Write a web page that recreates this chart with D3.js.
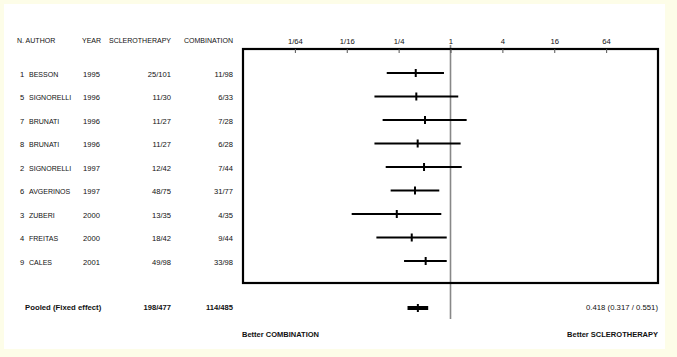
<!DOCTYPE html>
<html><head><meta charset="utf-8">
<script src="https://cdn.jsdelivr.net/npm/d3@7"></script>
<style>
html,body{margin:0;padding:0;background:#fdfde8;}
text{font-family:Arial,"Liberation Sans",sans-serif;fill:#111;}
</style></head>
<body>
<svg id="c" width="677" height="357"></svg>
<script>
const ids = [1,5,7,8,2,6,3,4,9];
const authors = ["BESSON","SIGNORELLI","BRUNATI","BRUNATI","SIGNORELLI","AVGERINOS","ZUBERI","FREITAS","CALES"];
const years = [1995,1996,1996,1996,1997,1997,2000,2000,2001];
const sclero = ["25/101","11/30","11/27","11/27","12/42","48/75","13/35","18/42","49/98"];
const combo = ["11/98","6/33","7/28","6/28","7/44","31/77","4/35","9/44","33/98"];
const est = [0.395,0.401,0.506,0.416,0.493,0.387,0.238,0.355,0.515];
const lo  = [0.182,0.131,0.163,0.131,0.177,0.202,0.0713,0.138,0.289];
const hi  = [0.840,1.23,1.54,1.31,1.35,0.741,0.782,0.904,0.904];
const tickVals = [1/64,1/16,1/4,1,4,16,64];
const tickLabels = ["1/64","1/16","1/4","1","4","16","64"];
const pooled = {label:"Pooled (Fixed effect)", sclero:"198/477", combo:"114/485", est:0.418, lo:0.317, hi:0.551};
const headers = ["N. AUTHOR","YEAR","SCLEROTHERAPY","COMBINATION"];

const svg = d3.select("#c");
svg.append("rect").attr("x",4).attr("y",4).attr("width",661).attr("height",345).attr("fill","#fff");

const x = d3.scaleLog().base(2).domain([1/256,256]).range([243,658]);
const y = d3.scaleLinear().domain([0,8]).range([73,261]);
const yPooled = 308;

function txt(g, s, px, py, opt={}){
  const sx = opt.sx || 0.88;
  return g.append("text")
    .attr("transform",`translate(${px},${py}) scale(${sx},1)`)
    .attr("text-anchor",opt.anchor||"start")
    .attr("dominant-baseline","central")
    .attr("font-size",opt.size||8)
    .attr("font-weight",opt.bold?"bold":"normal")
    .text(s);
}

// headers
const hg = svg.append("g");
txt(hg, headers[0], 17, 40);
txt(hg, headers[1], 82, 40);
txt(hg, headers[2], 171, 40, {anchor:"end"});
txt(hg, headers[3], 233, 40, {anchor:"end"});

// rows text
const rg = svg.append("g");
ids.forEach((d,i)=>{
  const yy = y(i)+1;
  txt(rg, String(d), 20, yy, {sx:0.95});
  txt(rg, authors[i], 29, yy);
  txt(rg, String(years[i]), 83, yy, {sx:0.95});
  txt(rg, sclero[i], 171, yy, {anchor:"end", sx:0.95});
  txt(rg, combo[i], 233, yy, {anchor:"end", sx:0.95});
});

// reference line at 1
svg.append("line").attr("x1",x(1)).attr("x2",x(1)).attr("y1",45).attr("y2",319)
  .attr("stroke","#888").attr("stroke-width",1.6);

// box
svg.append("rect").attr("x",243).attr("y",49).attr("width",415).attr("height",234)
  .attr("fill","none").attr("stroke","#000").attr("stroke-width",2.2);

// axis
const ax = svg.append("g").attr("transform","translate(0,49)")
  .call(d3.axisTop(x).tickValues(tickVals).tickFormat((d,i)=>tickLabels[i]).tickSizeInner(-4).tickSizeOuter(0).tickPadding(6));
ax.select(".domain").remove();
ax.selectAll(".tick line").attr("stroke","#555");
ax.selectAll(".tick text").attr("font-size",8).attr("fill","#111").attr("font-family","Arial,'Liberation Sans',sans-serif")
  .attr("transform","scale(0.96,1)").attr("dy","0.1em");

// CI lines
const cg = svg.append("g");
cg.selectAll("line.ci").data(est).join("line").attr("class","ci")
  .attr("x1",(d,i)=>x(lo[i])).attr("x2",(d,i)=>x(hi[i]))
  .attr("y1",(d,i)=>y(i)).attr("y2",(d,i)=>y(i))
  .attr("stroke","#000").attr("stroke-width",2);
cg.selectAll("line.pt").data(est).join("line").attr("class","pt")
  .attr("x1",d=>x(d)).attr("x2",d=>x(d))
  .attr("y1",(d,i)=>y(i)-4).attr("y2",(d,i)=>y(i)+4)
  .attr("stroke","#000").attr("stroke-width",2);

// pooled
svg.append("line").attr("x1",x(pooled.lo)).attr("x2",x(pooled.hi)).attr("y1",yPooled).attr("y2",yPooled)
  .attr("stroke","#000").attr("stroke-width",4);
svg.append("line").attr("x1",x(pooled.est)).attr("x2",x(pooled.est)).attr("y1",yPooled-4).attr("y2",yPooled+4)
  .attr("stroke","#000").attr("stroke-width",2);

const pg = svg.append("g");
txt(pg, pooled.label, 25, 307, {bold:true, sx:0.97});
txt(pg, pooled.sclero, 171, 307, {bold:true, anchor:"end", sx:0.95});
txt(pg, pooled.combo, 233, 307, {bold:true, anchor:"end", sx:0.95});
txt(pg, `${pooled.est} (${pooled.lo} / ${pooled.hi})`, 658, 307, {anchor:"end", sx:0.97});
txt(pg, "Better COMBINATION", 242, 334, {bold:true, sx:0.94});
txt(pg, "Better SCLEROTHERAPY", 658, 334, {bold:true, anchor:"end", sx:0.94});
</script>
</body></html>
